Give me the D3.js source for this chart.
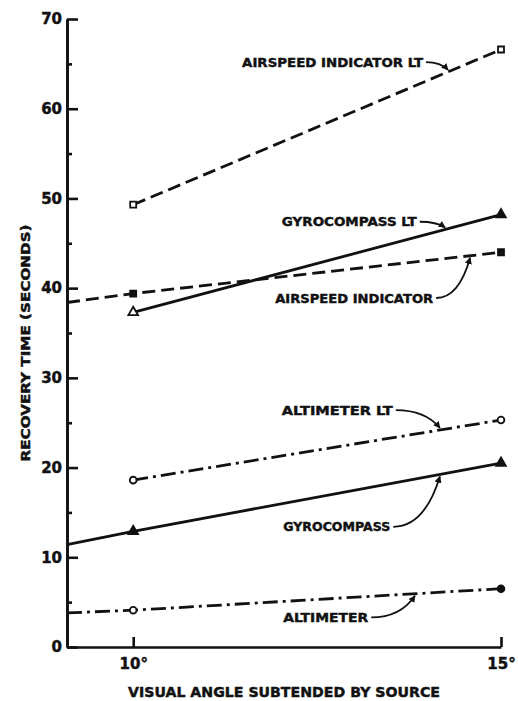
<!DOCTYPE html>
<html>
<head>
<meta charset="utf-8">
<script src="https://cdn.jsdelivr.net/npm/d3@7"></script>
<style>
	body { margin: 0; background: #fff; }
	svg text { font-family: "DejaVu Sans", sans-serif; font-weight: bold; fill: #111; stroke: #111; stroke-width: 0.45; }
	.axis path, .axis line { stroke: #111; stroke-width: 2.6; }
	.series { fill: none; stroke: #111; stroke-width: 2.8; }
	.leader { fill: none; stroke: #111; stroke-width: 1.8; }
</style>
</head>
<body>
<div id="chart"></div>
<script>

// visual angle (degrees) of the two measured points
var angles = [10, 15];
// angle at which the extended lines meet the y axis
var axis_angle = 9.1;

// recovery time (seconds) at 10 and 15 degrees
var airspeed_lt = [49.3, 66.6];
var gyrocompass_lt = [37.3, 48.2];
var airspeed = [39.4, 44.0];
var altimeter_lt = [18.6, 25.3];
var gyrocompass = [12.9, 20.5];
var altimeter = [4.1, 6.5];

// where three of the lines were drawn out to the y axis
var airspeed_at_axis = 38.4;
var gyrocompass_at_axis = 11.4;
var altimeter_at_axis = 3.8;

var y_ticks = [0, 10, 20, 30, 40, 50, 60, 70];
var y_minor_ticks = [5, 15, 25, 35, 45, 55, 65];
var x_ticks = [10, 15];
var x_tick_labels = ["10°", "15°"];

// open: whether the marker at 10 and at 15 degrees is drawn hollow
var series = [
	{name: "AIRSPEED INDICATOR LT", values: airspeed_lt, at_axis: null, dash: "13,6", marker: "square", open: [true, true]},
	{name: "GYROCOMPASS LT", values: gyrocompass_lt, at_axis: null, dash: null, marker: "triangle", open: [true, false]},
	{name: "AIRSPEED INDICATOR", values: airspeed, at_axis: airspeed_at_axis, dash: "13,6", marker: "square", open: [false, false]},
	{name: "ALTIMETER LT", values: altimeter_lt, at_axis: null, dash: "15,5,3,5", marker: "circle", open: [true, true]},
	{name: "GYROCOMPASS", values: gyrocompass, at_axis: gyrocompass_at_axis, dash: null, marker: "triangle", open: [false, false]},
	{name: "ALTIMETER", values: altimeter, at_axis: altimeter_at_axis, dash: "15,5,3,5", marker: "circle", open: [true, false]}
];

// label placement in data units: start angle, value, width, and the angle the arrow points at
var labels = [
	{text: "AIRSPEED INDICATOR LT", a: 11.48, v: 65.2, w: 181, arrow_to: 14.28, s: 0},
	{text: "GYROCOMPASS LT", a: 12.02, v: 47.4, w: 135, arrow_to: 14.24, s: 1},
	{text: "AIRSPEED INDICATOR", a: 11.93, v: 38.9, w: 158, arrow_to: 14.58, s: 2},
	{text: "ALTIMETER LT", a: 12.02, v: 26.4, w: 111, arrow_to: 14.17, s: 3},
	{text: "GYROCOMPASS", a: 12.04, v: 13.4, w: 107, arrow_to: 14.17, s: 4},
	{text: "ALTIMETER", a: 12.04, v: 3.3, w: 85, arrow_to: 13.83, s: 5}
];

function value_at(s, a){
	// straight line through the two measured points
	var v = s.values;
	return v[0] + (v[1] - v[0]) * (a - angles[0]) / (angles[1] - angles[0]);
}

function render_chart(){
	var width = 518, height = 701;
	var svg = d3.select("#chart").append("svg")
		.attr("width", width)
		.attr("height", height);

	var x = d3.scaleLinear().domain([axis_angle, 15]).range([67, 501]);
	var y = d3.scaleLinear().domain([0, 70]).range([647, 19]);

	svg.append("defs").append("marker")
		.attr("id", "head")
		.attr("viewBox", "0 0 10 10")
		.attr("refX", 9).attr("refY", 5)
		.attr("markerWidth", 7).attr("markerHeight", 7)
		.attr("markerUnits", "userSpaceOnUse")
		.attr("orient", "auto")
		.append("path")
		.attr("d", "M0,0L10,5L0,10z")
		.attr("fill", "#111");

	// y axis: major ticks, minor ticks, labels
	svg.append("g")
		.attr("class", "axis")
		.attr("transform", "translate(" + x(axis_angle) + ",0)")
		.call(d3.axisRight(y).tickValues(y_ticks).tickSize(11).tickSizeOuter(0).tickFormat(""));
	svg.append("g")
		.attr("class", "axis")
		.attr("transform", "translate(" + x(axis_angle) + ",0)")
		.call(d3.axisRight(y).tickValues(y_minor_ticks).tickSize(5).tickSizeOuter(0).tickFormat(""))
		.selectAll("line").attr("stroke-width", 2);
	var yl = svg.append("g")
		.attr("transform", "translate(" + x(axis_angle) + ",0)")
		.call(d3.axisLeft(y).tickValues(y_ticks).tickSize(0).tickPadding(5));
	yl.select(".domain").remove();
	yl.selectAll("text").style("font-size", "15px").attr("font-family", null);

	// x axis: ticks upward, labels below
	svg.append("g")
		.attr("class", "axis")
		.attr("transform", "translate(0," + y(0) + ")")
		.call(d3.axisTop(x).tickValues(x_ticks).tickSize(10).tickSizeOuter(0).tickFormat(""));
	var xl = svg.append("g")
		.attr("transform", "translate(0," + y(0) + ")")
		.call(d3.axisBottom(x).tickValues(x_ticks).tickSize(0).tickPadding(11)
			.tickFormat(function(d, i){ return x_tick_labels[i]; }));
	xl.select(".domain").remove();
	xl.selectAll("text").style("font-size", "15px").attr("font-family", null);

	// axis titles
	svg.append("text")
		.attr("x", 284).attr("y", 697)
		.attr("text-anchor", "middle")
		.attr("textLength", 312).attr("lengthAdjust", "spacingAndGlyphs")
		.style("font-size", "14px")
		.text("VISUAL ANGLE SUBTENDED BY SOURCE");
	svg.append("text")
		.attr("transform", "translate(30,343) rotate(-90)")
		.attr("text-anchor", "middle")
		.attr("textLength", 237).attr("lengthAdjust", "spacingAndGlyphs")
		.style("font-size", "13px")
		.text("RECOVERY TIME (SECONDS)");

	// lines
	var line = d3.line()
		.x(function(d){ return x(d[0]); })
		.y(function(d){ return y(d[1]); });

	series.forEach(function(s){
		var pts = [];
		if(s.at_axis !== null) pts.push([axis_angle, s.at_axis]);
		pts.push([angles[0], s.values[0]]);
		pts.push([angles[1], s.values[1]]);
		svg.append("path")
			.attr("class", "series")
			.attr("d", line(pts))
			.attr("stroke-dasharray", s.dash);

		var symbol = s.marker == "square" ? d3.symbolSquare
			: s.marker == "triangle" ? d3.symbolTriangle : d3.symbolCircle;
		var size = s.marker == "square" ? 36 : s.marker == "triangle" ? 40 : 36;
		svg.selectAll(null)
			.data(s.values)
			.enter().append("path")
			.attr("d", d3.symbol().type(symbol).size(size))
			.attr("transform", function(d, i){ return "translate(" + x(angles[i]) + "," + y(d) + ")"; })
			.attr("fill", function(d, i){ return s.open[i] ? "#fff" : "#111"; })
			.attr("stroke", "#111")
			.attr("stroke-width", 1.8);
	});

	// labels with curved leaders
	labels.forEach(function(l){
		var tx = x(l.a), ty = y(l.v);
		svg.append("text")
			.attr("x", tx).attr("y", ty)
			.attr("dy", "0.36em")
			.attr("textLength", l.w).attr("lengthAdjust", "spacingAndGlyphs")
			.style("font-size", "13px")
			.text(l.text);
		var sx = tx + l.w + 3, sy = ty;
		var ex = x(l.arrow_to), ey = y(value_at(series[l.s], l.arrow_to));
		ey += ey > sy ? -2 : 2;
		var p = d3.path();
		p.moveTo(sx, sy);
		p.quadraticCurveTo((sx + 2 * ex) / 3, sy, ex, ey);
		svg.append("path")
			.attr("class", "leader")
			.attr("d", p.toString())
			.attr("marker-end", "url(#head)");
	});
}

window.onload = render_chart;
</script>
</body>
</html>
